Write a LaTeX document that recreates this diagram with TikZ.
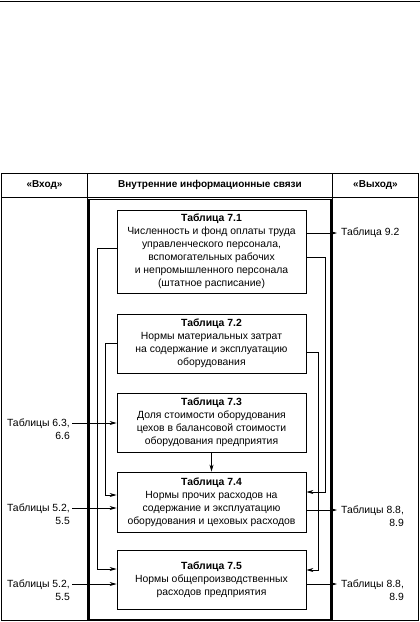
\documentclass[tikz,border=0pt]{standalone}
\usepackage{fontspec}
\setmainfont{Liberation Sans}
\usetikzlibrary{arrows.meta}
\usetikzlibrary{positioning}
\tikzset{tbl/.style = {draw, line width = 0.8pt, minimum width = 189pt, align = center, inner sep = 0, font = \fontsize{10.4}{13}\selectfont}}
\tikzset{hdr/.style = {inner sep = 0, font = \fontsize{10}{13}\selectfont\bfseries}}
\tikzset{lbl/.style = {inner sep = 0, font = \fontsize{10.4}{13}\selectfont}}
\tikzset{link/.style = {line width = 0.7pt, -{Stealth[length = 7pt, width = 4pt]}}}

\begin{document}
\begin{tikzpicture}[x=1pt, y=-1pt]
          \useasboundingbox (0,0) rectangle (420,622);
          \draw [line width=1.2pt] (0,1.5) -- (420,1.5);

          % table frame
          \draw [line width=0.8pt] (1.5,173) rectangle (418.5,620);
          \draw [line width=0.8pt] (1.5,197) -- (418.5,197);
          \draw [line width=0.8pt] (87.5,173) -- (87.5,620);
          \draw [line width=0.8pt] (332.5,173) -- (332.5,620);
          \draw [line width=1.6pt] (89,199.5) rectangle (331,620);

          \node [hdr] (hin) at (44.5,185) {«Вход»};
          \node [hdr] (hmid) at (210,185) {Внутренние информационные связи};
          \node [hdr] (hout) at (375.5,185) {«Выход»};

          % tables
          \node [tbl, minimum height=83pt] (t1) at (211.5,251.5) {\textbf{Таблица 7.1}\\Численность и фонд оплаты труда\\управленческого персонала,\\вспомогательных рабочих\\и непромышленного персонала\\(штатное расписание)};
          \node [tbl, minimum height=59pt] (t2) at (211.5,343.5) {\textbf{Таблица 7.2}\\Нормы материальных затрат\\на содержание и эксплуатацию\\оборудования};
          \node [tbl, minimum height=59pt] (t3) at (211.5,422.5) {\textbf{Таблица 7.3}\\Доля стоимости оборудования\\цехов в балансовой стоимости\\оборудования предприятия};
          \node [tbl, minimum height=60pt] (t4) at (211.5,502) {\textbf{Таблица 7.4}\\Нормы прочих расходов на\\содержание и эксплуатацию\\оборудования и цеховых расходов};
          \node [tbl, minimum height=59pt] (t5) at (211.5,579.5) {\textbf{Таблица 7.5}\\Нормы общепроизводственных\\расходов предприятия};

          % inputs
          \node [lbl, align=right, anchor=north east] (i63) at (70,419) {Таблицы 6.3,\\6.6};
          \node [lbl, align=right, anchor=north east] (i52a) at (70,504) {Таблицы 5.2,\\5.5};
          \node [lbl, align=right, anchor=north east] (i52b) at (70,580) {Таблицы 5.2,\\5.5};

          % outputs
          \node [lbl, anchor=west] (o92) at (341,233) {Таблица 9.2};
          \node [lbl, align=right, anchor=north west] (o88a) at (341,506) {Таблицы 8.8,\\8.9};
          \node [lbl, align=right, anchor=north west] (o88b) at (341,580) {Таблицы 8.8,\\8.9};

          \draw [link] ([xshift=2pt,yshift=-4pt]i63.north east) -- (t3.west |- 0,423);
          \draw [link] ([xshift=2pt,yshift=-4pt]i52a.north east) -- (t4.west |- 0,508);
          \draw [link] ([xshift=2pt,yshift=-4pt]i52b.north east) -- (t5.west |- 0,584);

          \draw [link] (t1.east |- o92) -- ([xshift=-4pt]o92.west);
          \draw [link] (t4.east |- 0,510) -- ([xshift=-4pt,yshift=-4pt]o88a.north west);
          \draw [link] (t5.east |- 0,584) -- ([xshift=-4pt,yshift=-4pt]o88b.north west);

          % internal links
          \draw [link] (t1.west |- 0,248) -- (97,248) -- (97,569) -- (t5.west |- 0,569);
          \draw [link] (t2.west |- 0,343) -- (105,343) -- (105,495) -- (t4.west |- 0,495);
          \draw [link] (t1.east |- 0,257) -- (325,257) -- (325,492) -- (t4.east |- 0,492);
          \draw [link] (t2.east |- 0,352) -- (318,352) -- (318,570) -- (t5.east |- 0,570);
          \draw [link] (t3.south) -- (t4.north);
        \end{tikzpicture}
\end{document}
